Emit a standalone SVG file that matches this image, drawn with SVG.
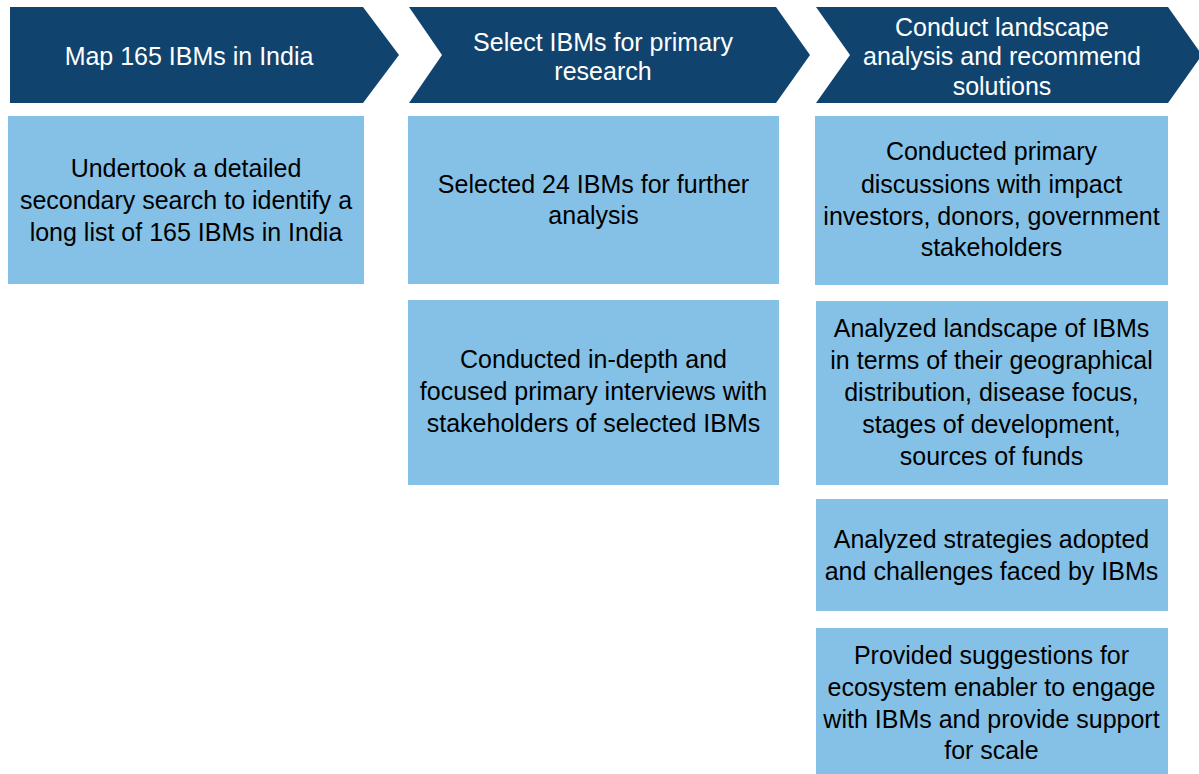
<svg xmlns="http://www.w3.org/2000/svg" width="1199" height="774" viewBox="0 0 1199 774">
<style>
.hd{fill:#10446F}
.bx{fill:#85C1E6}
.ht{font-family:"Liberation Sans",Arial,sans-serif;font-size:25px;fill:#FFFFFF;text-anchor:middle}
.bt{font-family:"Liberation Sans",Arial,sans-serif;font-size:25px;fill:#000000;text-anchor:middle}
</style>
<rect width="1199" height="774" fill="#FFFFFF"/>
<g id="step1">
<polygon class="hd" points="10,7 363,7 399,55 363,103 10,103"/>
<text class="ht" x="189" y="65">Map 165 IBMs in India</text>
</g>
<g id="step2">
<polygon class="hd" points="409,7 776,7 810,55 776,103 409,103 442,55"/>
<text class="ht" x="603" y="51">Select IBMs for primary</text>
<text class="ht" x="603" y="80">research</text>
</g>
<g id="step3">
<polygon class="hd" points="816,7 1168,7 1202,55 1168,103 816,103 850,55"/>
<text class="ht" x="1002" y="36">Conduct landscape</text>
<text class="ht" x="1002" y="65">analysis and recommend</text>
<text class="ht" x="1002" y="95">solutions</text>
</g>
<g id="box1">
<rect class="bx" x="8" y="116" width="356" height="168"/>
<text class="bt" x="186" y="177">Undertook a detailed</text>
<text class="bt" x="186" y="209">secondary search to identify a</text>
<text class="bt" x="186" y="241">long list of 165 IBMs in India</text>
</g>
<g id="box2a">
<rect class="bx" x="408" y="116" width="371" height="168"/>
<text class="bt" x="593.5" y="193">Selected 24 IBMs for further</text>
<text class="bt" x="593.5" y="224">analysis</text>
</g>
<g id="box2b">
<rect class="bx" x="408" y="300" width="371" height="185"/>
<text class="bt" x="593.5" y="368">Conducted in-depth and</text>
<text class="bt" x="593.5" y="400">focused primary interviews with</text>
<text class="bt" x="593.5" y="432">stakeholders of selected IBMs</text>
</g>
<g id="box3a">
<rect class="bx" x="815" y="116" width="353" height="169"/>
<text class="bt" x="991.5" y="160">Conducted primary</text>
<text class="bt" x="991.5" y="193">discussions with impact</text>
<text class="bt" x="991.5" y="225">investors, donors, government</text>
<text class="bt" x="991.5" y="256">stakeholders</text>
</g>
<g id="box3b">
<rect class="bx" x="816" y="301" width="352" height="184"/>
<text class="bt" x="991.5" y="337">Analyzed landscape of IBMs</text>
<text class="bt" x="991.5" y="369">in terms of their geographical</text>
<text class="bt" x="991.5" y="401">distribution, disease focus,</text>
<text class="bt" x="991.5" y="433">stages of development,</text>
<text class="bt" x="991.5" y="465">sources of funds</text>
</g>
<g id="box3c">
<rect class="bx" x="816" y="499" width="352" height="112"/>
<text class="bt" x="991.5" y="548">Analyzed strategies adopted</text>
<text class="bt" x="991.5" y="580">and challenges faced by IBMs</text>
</g>
<g id="box3d">
<rect class="bx" x="816" y="628" width="352" height="146"/>
<text class="bt" x="991.5" y="664">Provided suggestions for</text>
<text class="bt" x="991.5" y="696">ecosystem enabler to engage</text>
<text class="bt" x="991.5" y="728">with IBMs and provide support</text>
<text class="bt" x="991.5" y="759">for scale</text>
</g>
<g id="connectors"></g>
</svg>
